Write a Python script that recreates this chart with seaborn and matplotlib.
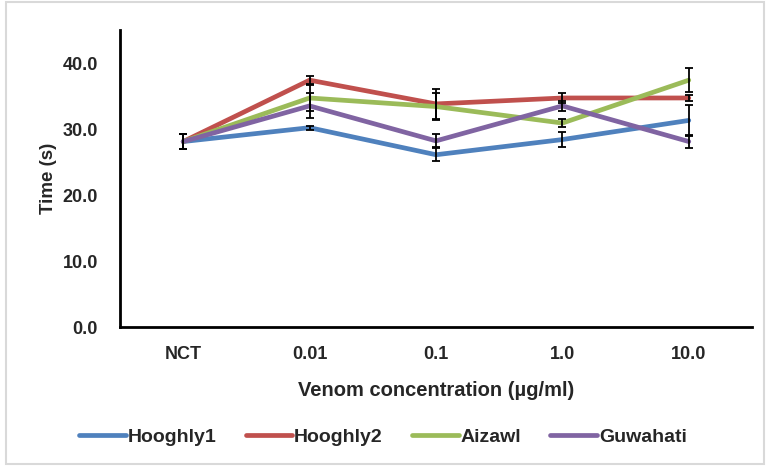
import matplotlib
matplotlib.use("Agg")
import matplotlib.pyplot as plt
import seaborn as sns
import pandas as pd
from matplotlib.patches import Rectangle
from matplotlib.lines import Line2D

categories = ["NCT", "0.01", "0.1", "1.0", "10.0"]
series_names = ["Hooghly1", "Hooghly2", "Aizawl", "Guwahati"]
hooghly1 = [28.1, 30.2, 26.1, 28.4, 31.3]
hooghly2 = [28.1, 37.4, 33.8, 34.7, 34.7]
aizawl = [28.1, 34.7, 33.4, 30.9, 37.4]
guwahati = [28.1, 33.5, 28.2, 33.5, 28.1]
err_hooghly1 = [1.1, 0.3, 1.0, 1.1, 2.3]
err_hooghly2 = [1.1, 0.6, 2.3, 0.7, 0.5]
err_aizawl = [1.1, 2.0, 2.0, 0.6, 1.8]
err_guwahati = [1.1, 1.9, 1.0, 0.8, 1.0]
y_ticks = [0, 10, 20, 30, 40]
colors = ["#4F81BD", "#C0504D", "#9BBB59", "#8064A2"]

values = [hooghly1, hooghly2, aizawl, guwahati]
errors = [err_hooghly1, err_hooghly2, err_aizawl, err_guwahati]

rows = []
for name, vals, errs in zip(series_names, values, errors):
    for i, (c, v, e) in enumerate(zip(categories, vals, errs)):
        rows.append({"series": name, "pos": i, "cat": c, "value": v, "err": e})
df = pd.DataFrame(rows)

sns.set_theme(style="white")
plt.rcParams["font.family"] = ["Liberation Sans", "DejaVu Sans"]

fig = plt.figure(figsize=(7.66, 4.66), dpi=100)
ax = fig.add_axes([120 / 766, (466 - 327) / 466, (752 - 120) / 766, (327 - 30) / 466])

sns.lineplot(data=df, x="pos", y="value", hue="series", hue_order=series_names,
             palette=colors, linewidth=3.4, errorbar=None, ax=ax, legend=False, zorder=2)

for name in series_names:
    sub = df[df["series"] == name]
    ax.errorbar(sub["pos"], sub["value"], yerr=sub["err"], fmt="none",
                ecolor="black", elinewidth=1.3, capsize=3.2, capthick=1.3, zorder=3)

ax.set_xlim(-0.5, len(categories) - 0.5)
ax.set_ylim(0, 45)
ax.set_yticks(y_ticks)
ax.set_yticklabels([f"{t:.1f}" for t in y_ticks], fontweight="bold", fontsize=13, color="#262626")
ax.set_xticks(range(len(categories)))
ax.set_xticklabels(categories, fontweight="bold", fontsize=13, color="#262626")
ax.tick_params(axis="x", length=0, pad=14)
ax.tick_params(axis="y", length=0, pad=16)

for s in ["top", "right"]:
    ax.spines[s].set_visible(False)
for s in ["left", "bottom"]:
    ax.spines[s].set_color("black")
    ax.spines[s].set_linewidth(2)

ax.set_ylabel("Time (s)", fontweight="bold", fontsize=13.5, labelpad=4)
ax.set_xlabel("Venom concentration (µg/ml)", fontweight="bold", fontsize=14.5, labelpad=13)

handles = [Line2D([0], [0], color=c, lw=3.4) for c in colors]
fig.legend(handles, series_names, loc="center", bbox_to_anchor=(0.5, (466 - 437) / 466),
           ncol=4, frameon=False, prop={"weight": "bold", "size": 14},
           handlelength=2.4, handletextpad=0.1, columnspacing=1.5)

fig.patches.append(Rectangle((6 / 766, 2 / 466), 758 / 766, 462 / 466, transform=fig.transFigure,
                             fill=False, edgecolor="#D9D9D9", linewidth=1.5))

fig.savefig("out.png", dpi=100)
